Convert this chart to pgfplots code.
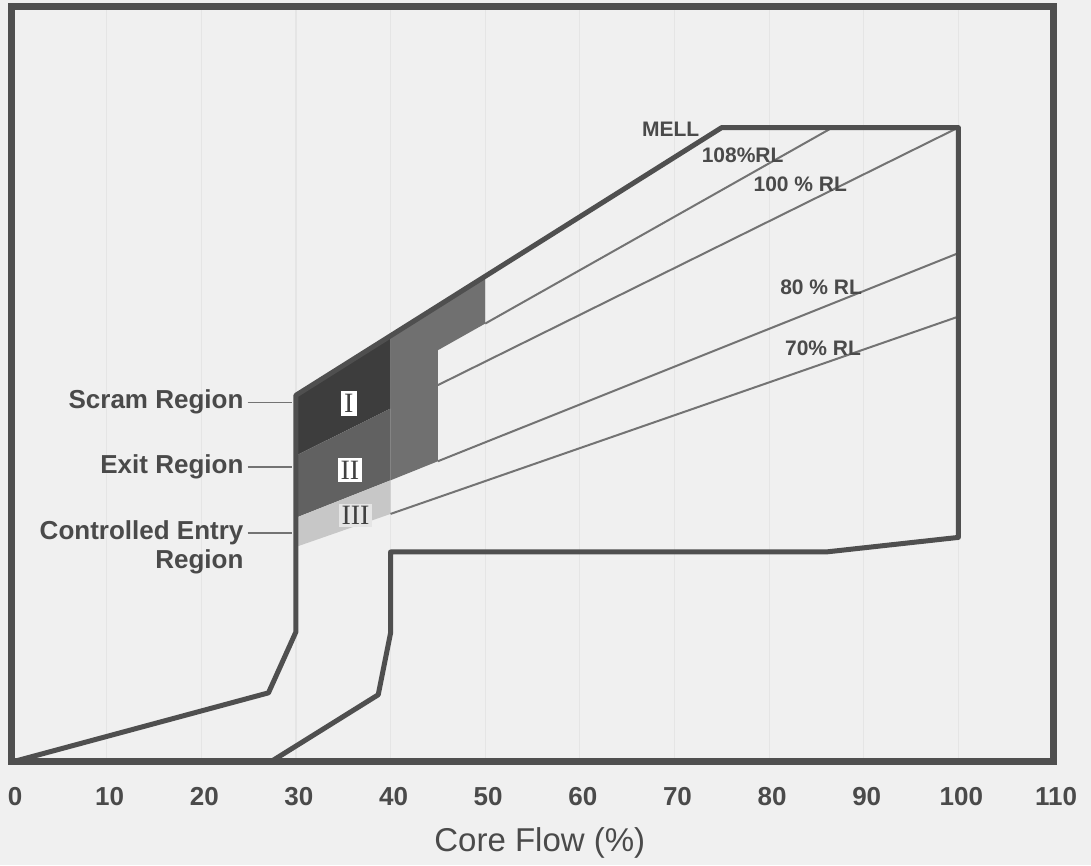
\documentclass[border=0pt]{standalone}
\usepackage{pgfplots}
\pgfplotsset{compat=1.18}
\usepackage{fontspec}
\setmainfont{Liberation Sans}
\newfontfamily\romfont{Liberation Serif}
\usetikzlibrary{backgrounds}
\definecolor{bgc}{HTML}{F0F0F0}
\definecolor{framec}{HTML}{4F4F4F}
\definecolor{txt}{HTML}{4A4A4A}
\begin{document}
\begin{tikzpicture}[show background rectangle, inner frame sep=0pt, background rectangle/.style={fill=bgc, draw=none}]
\begin{axis}[
  scale only axis, width=520.5pt, height=377.5pt,
  xmin=0, xmax=110, ymin=0, ymax=119,
  clip=false,
  axis line style={line width=3.5pt, draw=framec},
  xtick={0,10,...,110}, ytick=\empty,
  major tick length=0pt,
  xmajorgrids, grid style={black!10, line width=0.6pt},
  /pgf/number format/assume math mode=true,
  xticklabel style={font=\fontsize{13}{15}\selectfont\bfseries, text=txt, anchor=center, yshift=-17.5pt, xshift=1.5pt},
  xlabel={Core Flow (\%)},
  xlabel style={font=\fontsize{16.5}{19}\selectfont, text=txt, at={(axis description cs:0.507,0)}, anchor=center, yshift=-40.5pt},
]
% shaded regions
\addplot[draw=none, fill=black!76] coordinates {(30,57.8)(40,67.2)(40,55.7)(30,48.3)} -- cycle;
\addplot[draw=none, fill=black!62] coordinates {(30,48.3)(40,55.7)(40,44.4)(30,38.5)} -- cycle;
\addplot[draw=none, fill=black!56] coordinates {(40,44.4)(40,67.2)(50,76.6)(50,69.1)(45,64.9)(45,47.4)} -- cycle;
\addplot[draw=none, fill=black!22] coordinates {(30,38.5)(40,44.4)(40,39.1)(30,33.9)} -- cycle;
% rod lines
\addplot[black!55, line width=1pt] coordinates {(50,69.1)(86.7,100)};
\addplot[black!55, line width=1pt] coordinates {(45,59.4)(100,100)};
\addplot[black!55, line width=1pt] coordinates {(45,47.4)(100,80.2)};
\addplot[black!55, line width=1pt] coordinates {(40,39.1)(100,70.2)};
% boundary
\addplot[framec, line width=2.5pt, line join=round] coordinates {(0,0)(27.1,10.9)(30,20.5)(30,57.8)(75,100)(100,100)(100,35.4)(86,33.1)(40,33.1)(40,20.3)(38.7,10.6)(27.3,0)};
% leader lines
\addplot[black!55, line width=0.6pt] coordinates {(24.9,56.7)(29.6,56.7)};
\addplot[black!55, line width=0.6pt] coordinates {(24.9,46.5)(29.6,46.5)};
\addplot[black!55, line width=0.6pt] coordinates {(24.9,36.1)(29.6,36.1)};
% left labels
\node[anchor=east, font=\fontsize{13}{14.5}\selectfont\bfseries, text=txt] at (axis cs:25.2,56.7) {Scram Region};
\node[anchor=east, font=\fontsize{13}{14.5}\selectfont\bfseries, text=txt] at (axis cs:25.2,46.5) {Exit Region};
\node[anchor=east, align=right, font=\fontsize{13}{14.5}\selectfont\bfseries, text=txt] at (axis cs:25.2,33.8) {Controlled Entry\\Region};
% numerals
\node[fill=white, inner sep=1.5pt, font=\romfont\fontsize{14}{14}\selectfont, text=black!75] at (axis cs:35.6,56.5) {I};
\node[fill=white, inner sep=1.5pt, font=\romfont\fontsize{14}{14}\selectfont, text=black!75] at (axis cs:35.7,46.0) {II};
\node[fill=black!10, inner sep=1.2pt, font=\romfont\fontsize{14}{14}\selectfont, text=black!75] at (axis cs:36.3,38.8) {III};
% curve labels
\node[font=\fontsize{10.5}{12}\selectfont\bfseries, text=txt] at (axis cs:69.6,99.8) {MELL};
\node[font=\fontsize{10.5}{12}\selectfont\bfseries, text=txt] at (axis cs:77.2,95.7) {108\%RL};
\node[font=\fontsize{10.5}{12}\selectfont\bfseries, text=txt] at (axis cs:83.3,91.0) {100 \% RL};
\node[font=\fontsize{10.5}{12}\selectfont\bfseries, text=txt] at (axis cs:85.5,74.8) {80 \% RL};
\node[font=\fontsize{10.5}{12}\selectfont\bfseries, text=txt] at (axis cs:85.7,65.2) {70\% RL};
\end{axis}
\path (current axis.south west) ++(-6pt,-50.5pt) rectangle ++(545.5pt,431.5pt);
\end{tikzpicture}
\end{document}
